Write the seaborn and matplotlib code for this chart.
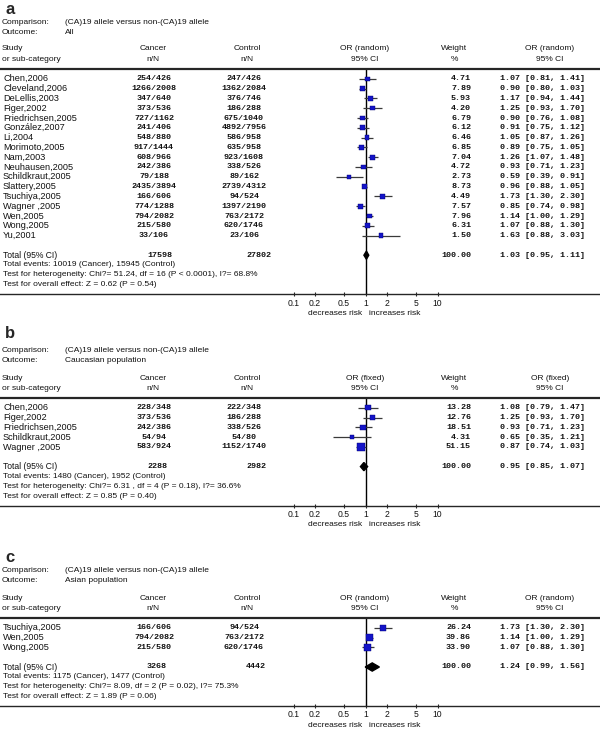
import matplotlib
matplotlib.use("Agg")
import matplotlib.pyplot as plt
import matplotlib.transforms as mtransforms
from matplotlib.ticker import NullLocator
import numpy as np
import pandas as pd
import seaborn as sns

# ===== panel a : all studies =====
studies_a = ["Chen,2006", "Cleveland,2006", "DeLellis,2003", "Figer,2002",
             "Friedrichsen,2005", "González,2007", "Li,2004", "Morimoto,2005",
             "Nam,2003", "Neuhausen,2005", "Schildkraut,2005", "Slattery,2005",
             "Tsuchiya,2005", "Wagner ,2005", "Wen,2005", "Wong,2005", "Yu,2001"]
cancer_a = ["254/426", "1266/2008", "347/640", "373/536", "727/1162", "241/406",
            "548/880", "917/1444", "608/966", "242/386", "79/188", "2435/3894",
            "166/606", "774/1288", "794/2082", "215/580", "33/106"]
control_a = ["247/426", "1362/2084", "376/746", "186/288", "675/1040", "4892/7956",
             "586/958", "635/958", "923/1608", "338/526", "89/162", "2739/4312",
             "94/524", "1397/2190", "763/2172", "620/1746", "23/106"]
weight_a = [4.71, 7.89, 5.93, 4.20, 6.79, 6.12, 6.46, 6.85, 7.04, 4.72, 2.73,
            8.73, 4.49, 7.57, 7.96, 6.31, 1.50]
or_a = [1.07, 0.90, 1.17, 1.25, 0.90, 0.91, 1.05, 0.89, 1.26, 0.93, 0.59,
        0.96, 1.73, 0.85, 1.14, 1.07, 1.63]
lo_a = [0.81, 0.80, 0.94, 0.93, 0.76, 0.75, 0.87, 0.75, 1.07, 0.71, 0.39,
        0.88, 1.30, 0.74, 1.00, 0.88, 0.88]
hi_a = [1.41, 1.03, 1.44, 1.70, 1.08, 1.12, 1.26, 1.05, 1.48, 1.23, 0.91,
        1.05, 2.30, 0.98, 1.29, 1.30, 3.03]
totals_a = ["17598", "27802"]
pooled_a = [1.03, 0.95, 1.11]
notes_a = ["Total events: 10019 (Cancer), 15945 (Control)",
           "Test for heterogeneity: Chi?= 51.24, df = 16 (P < 0.0001), I?= 68.8%",
           "Test for overall effect: Z = 0.62 (P = 0.54)"]

# ===== panel b : caucasian =====
studies_b = ["Chen,2006", "Figer,2002", "Friedrichsen,2005", "Schildkraut,2005", "Wagner ,2005"]
cancer_b = ["228/348", "373/536", "242/386", "54/94", "583/924"]
control_b = ["222/348", "186/288", "338/526", "54/80", "1152/1740"]
weight_b = [13.28, 12.76, 18.51, 4.31, 51.15]
or_b = [1.08, 1.25, 0.93, 0.65, 0.87]
lo_b = [0.79, 0.93, 0.71, 0.35, 0.74]
hi_b = [1.47, 1.70, 1.23, 1.21, 1.03]
totals_b = ["2288", "2982"]
pooled_b = [0.95, 0.85, 1.07]
notes_b = ["Total events: 1480 (Cancer), 1952 (Control)",
           "Test for heterogeneity: Chi?= 6.31 , df = 4 (P = 0.18), I?= 36.6%",
           "Test for overall effect: Z = 0.85 (P = 0.40)"]

# ===== panel c : asian =====
studies_c = ["Tsuchiya,2005", "Wen,2005", "Wong,2005"]
cancer_c = ["166/606", "794/2082", "215/580"]
control_c = ["94/524", "763/2172", "620/1746"]
weight_c = [26.24, 39.86, 33.90]
or_c = [1.73, 1.14, 1.07]
lo_c = [1.30, 1.00, 0.88]
hi_c = [2.30, 1.29, 1.30]
totals_c = ["3268", "4442"]
pooled_c = [1.24, 0.99, 1.56]
notes_c = ["Total events: 1175 (Cancer), 1477 (Control)",
           "Test for heterogeneity: Chi?= 8.09, df = 2 (P = 0.02), I?= 75.3%",
           "Test for overall effect: Z = 1.89 (P = 0.06)"]

comparison = "(CA)19 allele versus non-(CA)19 allele"
total_weight = "100.00"
tick_vals = [0.1, 0.2, 0.5, 1, 2, 5, 10]
tick_labels = ["0.1", "0.2", "0.5", "1", "2", "5", "10"]

# figure geometry (pixels)
W, H = 600, 730
ROW = 9.8
X01, DEC = 293.5, 72.0          # pixel of OR=0.1, pixels per decade
XMIN = 10 ** (-1 - X01 / DEC)
XMAX = 10 ** (-1 + (W - X01) / DEC)

sns.set_style("white")
plt.rcParams['font.family'] = ['Liberation Sans', 'DejaVu Sans']
SMALL = 6.0      # headers, notes, ticks
NAME = 6.6       # study names
MONO = dict(family=['Liberation Mono', 'DejaVu Sans Mono'], size=6.0, fontweight='bold')
INK = '#111111'

fig = plt.figure(figsize=(W / 100, H / 100), dpi=100)
bg = fig.add_axes([0, 0, 1, 1])
bg.set_xlim(0, W)
bg.set_ylim(H, 0)
bg.axis('off')


def draw_panel(letter, top, letter_gap, outcome, method, studies, cancer, control,
               weight, orv, lo, hi, totals, pooled, notes):
    n = len(studies)
    height = (n + 6) * ROW
    ax = fig.add_axes([0, 1 - (top + height) / H, 1, height / H])
    ax.patch.set_alpha(0)
    ax.set_xscale('log')
    ax.set_xlim(XMIN, XMAX)
    ax.set_ylim(n + 5, -1)

    df = pd.DataFrame({'y': np.arange(n), 'orv': orv, 'lo': lo, 'hi': hi, 'weight': weight})

    ax.axvline(1, color='black', lw=1.0, zorder=1)
    ax.hlines(df['y'], df['lo'], df['hi'], color='#3a3a3a', lw=0.9, zorder=2)
    sns.scatterplot(data=df, x='orv', y='y', size='weight', sizes=(9, 32), size_norm=(0, 60),
                    marker='s', color='#1414c8', edgecolor='#000070', linewidth=0.3,
                    legend=False, ax=ax, zorder=3)

    # pooled diamond
    p, plo, phi = pooled
    yt = n + 1
    ax.fill([plo, p, phi, p], [yt, yt - 0.42, yt, yt + 0.42], color='black', zorder=3)

    sns.despine(ax=ax, left=True, right=True, top=False, bottom=False)
    ax.spines['top'].set_linewidth(1.6)
    ax.spines['bottom'].set_linewidth(1.0)
    ax.set_xticks(tick_vals)
    ax.set_xticklabels(tick_labels, fontsize=SMALL + 0.2, color=INK)
    ax.xaxis.set_minor_locator(NullLocator())
    ax.tick_params(axis='x', direction='inout', length=3, width=0.8, pad=1.5,
                   top=False, bottom=True)
    ax.set_yticks([])
    ax.set_xlabel('')
    ax.set_ylabel('')

    tr = mtransforms.blended_transform_factory(bg.transData, ax.transData)
    for i in range(n):
        ax.text(3, i, studies[i], transform=tr, va='center', ha='left', fontsize=NAME, color=INK)
        ax.text(154, i, cancer[i], transform=tr, va='center', ha='center', color=INK, **MONO)
        ax.text(244, i, control[i], transform=tr, va='center', ha='center', color=INK, **MONO)
        ax.text(471, i, f"{weight[i]:.2f}", transform=tr, va='center', ha='right', color=INK, **MONO)
        ax.text(500, i, f"{orv[i]:.2f} [{lo[i]:.2f}, {hi[i]:.2f}]", transform=tr,
                va='center', ha='left', color=INK, **MONO)

    ax.text(3, yt, "Total (95% CI)", transform=tr, va='center', ha='left', fontsize=SMALL + 0.2, color=INK)
    ax.text(147, yt, totals[0], transform=tr, va='center', ha='left', color=INK, **MONO)
    ax.text(246, yt, totals[1], transform=tr, va='center', ha='left', color=INK, **MONO)
    ax.text(471, yt, total_weight, transform=tr, va='center', ha='right', color=INK, **MONO)
    ax.text(500, yt, f"{p:.2f} [{plo:.2f}, {phi:.2f}]", transform=tr,
            va='center', ha='left', color=INK, **MONO)
    for k, line in enumerate(notes):
        ax.text(3, yt + 1 + k, line, transform=tr, va='center', ha='left', fontsize=SMALL, color=INK)

    # header block
    bg.text(5, top - letter_gap, letter, fontsize=12, fontweight='bold', va='center', ha='left')
    bg.text(2, top - 47, "Comparison:", fontsize=SMALL, va='center', color=INK)
    bg.text(65, top - 47, comparison, fontsize=SMALL, va='center', color=INK)
    bg.text(2, top - 37, "Outcome:", fontsize=SMALL, va='center', color=INK)
    bg.text(65, top - 37, outcome, fontsize=SMALL, va='center', color=INK)
    heads = [(2, 'left', "Study", "or sub-category"),
             (153, 'center', "Cancer", "n/N"),
             (247, 'center', "Control", "n/N"),
             (365, 'center', method, "95% CI"),
             (454, 'center', "Weight", "%"),
             (550, 'center', method, "95% CI")]
    for x, ha, l1, l2 in heads:
        bg.text(x, top - 20, l1, fontsize=SMALL, va='center', ha=ha, color=INK)
        bg.text(x, top - 9.5, l2, fontsize=SMALL, va='center', ha=ha, color=INK)

    bottom = top + height
    bg.text(335, bottom + 19, "decreases risk", fontsize=SMALL, va='center', ha='center', color=INK)
    bg.text(395, bottom + 19, "increases risk", fontsize=SMALL, va='center', ha='center', color=INK)


draw_panel("a", 69, 59, "All", "OR (random)", studies_a, cancer_a, control_a,
           weight_a, or_a, lo_a, hi_a, totals_a, pooled_a, notes_a)
draw_panel("b", 398, 65, "Caucasian population", "OR (fixed)", studies_b, cancer_b, control_b,
           weight_b, or_b, lo_b, hi_b, totals_b, pooled_b, notes_b)
draw_panel("c", 618, 61, "Asian population", "OR (random)", studies_c, cancer_c, control_c,
           weight_c, or_c, lo_c, hi_c, totals_c, pooled_c, notes_c)

fig.savefig("out.png", dpi=100)
plt.close(fig)
